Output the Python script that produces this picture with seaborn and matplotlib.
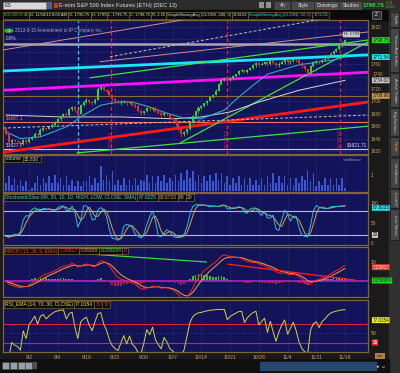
import matplotlib
matplotlib.use("Agg")
import numpy as np
import pandas as pd
import matplotlib.pyplot as plt
import matplotlib.transforms as mtransforms
from matplotlib.patches import Rectangle, Circle
import seaborn as sns

# ---------------- data ----------------
week_labels = ["9/2", "9/9", "9/16", "9/23", "9/30", "10/7", "10/14",
               "10/21", "10/28", "11/4", "11/11", "11/18"]
week_bars = [8, 18, 28, 38, 48, 58, 68, 78, 88, 98, 108, 118]

first_open = 1655.0
close = [1648, 1634, 1638, 1636, 1635, 1632, 1637, 1634, 1640, 1643,
         1648, 1646, 1654, 1657, 1656, 1659, 1662, 1667, 1671, 1676,
         1680, 1678, 1687, 1691, 1686, 1680, 1694, 1699, 1702, 1699,
         1697, 1703, 1720, 1724, 1719, 1716, 1710, 1704, 1700, 1697,
         1699, 1701, 1697, 1699, 1695, 1693, 1685, 1681, 1684, 1689,
         1687, 1690, 1685, 1682, 1678, 1681, 1679, 1674, 1671, 1664,
         1656, 1648, 1650, 1655, 1665, 1676, 1684, 1690, 1692, 1697,
         1701, 1707, 1711, 1717, 1728, 1735, 1737, 1734, 1738, 1741,
         1744, 1749, 1750, 1748, 1751, 1754, 1758, 1762, 1759, 1761,
         1763, 1760, 1765, 1762, 1758, 1761, 1764, 1767, 1763, 1765,
         1768, 1766, 1762, 1757, 1752, 1746, 1757, 1763, 1765, 1763,
         1767, 1769, 1773, 1777, 1781, 1784, 1789, 1795, 1798.75]
wick_up = [3, 2, 2, 1, 2, 1, 2, 1, 3, 2, 2, 1, 3, 2, 1, 2, 3, 2, 2, 1,
           2, 3, 2, 1, 3, 2, 2, 1, 3, 2, 1, 2, 4, 3, 2, 1, 2, 2, 1, 2,
           3, 1, 2, 2, 1, 2, 3, 2, 1, 2, 2, 1, 3, 2, 2, 1, 2, 1, 2, 1,
           2, 3, 2, 2, 3, 2, 1, 2, 2, 1, 2, 2, 1, 3, 2, 1, 2, 2, 1, 2,
           1, 2, 2, 1, 2, 1, 2, 2, 1, 2, 1, 2, 1, 2, 1, 2, 2, 1, 2, 1,
           2, 1, 2, 1, 2, 1, 2, 2, 1, 2, 1, 2, 1, 2, 1, 2, 1, 2, 1]
wick_dn = [2, 3, 2, 2, 1, 4, 2, 3, 1, 2, 2, 3, 1, 2, 2, 1, 2, 1, 2, 2,
           1, 3, 1, 2, 3, 4, 1, 2, 2, 3, 2, 1, 1, 2, 2, 3, 2, 3, 2, 1,
           2, 2, 3, 1, 2, 3, 2, 3, 2, 1, 2, 3, 2, 2, 3, 2, 2, 3, 2, 3,
           4, 6, 3, 2, 1, 2, 1, 2, 2, 1, 2, 1, 2, 1, 1, 2, 2, 3, 1, 2,
           1, 2, 1, 2, 2, 1, 1, 2, 2, 1, 2, 3, 2, 1, 2, 2, 1, 3, 2, 2,
           1, 2, 2, 3, 3, 4, 2, 1, 2, 2, 1, 2, 1, 1, 2, 1, 1, 1, 1]
volume_m = [0.5, 0.9, 0.4, 0.8, 0.4, 0.7, 0.3, 0.6,
            0.1, 0.2, 0.5, 0.9, 0.4, 0.8, 0.5, 0.9, 0.5, 1.0,
            0.5, 0.8, 0.4, 0.9, 0.4, 0.7, 0.3, 0.6, 0.3, 0.6,
            0.6, 0.9, 0.4, 0.8, 0.5, 1.5, 0.7, 1.0, 0.6, 1.2,
            0.4, 0.7, 0.4, 0.8, 0.4, 0.7, 0.4, 0.8, 0.4, 0.7,
            0.6, 1.0, 0.5, 0.9, 0.5, 0.9, 0.6, 1.0, 0.5, 0.8,
            0.6, 1.0, 0.6, 1.1, 0.7, 1.3, 0.8, 1.2, 0.6, 1.0,
            0.5, 0.9, 0.6, 1.0, 0.6, 1.1, 0.7, 1.1, 0.5, 0.9,
            0.4, 0.8, 0.5, 0.9, 0.4, 0.8, 0.4, 0.8, 0.4, 0.7,
            0.4, 0.8, 0.4, 0.9, 0.5, 1.1, 0.5, 0.9, 0.5, 0.9,
            0.4, 0.8, 0.4, 0.8, 0.5, 0.9, 0.7, 1.3, 0.6, 1.1,
            0.3, 0.6, 0.4, 0.8, 0.4, 0.8, 0.4, 0.8, 0.4, 0.8,
            0.2]

sma50_bars = [0, 5, 12, 21, 27, 33, 39, 44, 50, 56, 62, 68, 76, 81, 86, 91, 102, 114, 118]
sma50_vals = [1651, 1640, 1643, 1659, 1678, 1694, 1699, 1699, 1691, 1681,
              1673, 1672, 1686, 1707, 1726, 1744, 1759, 1767, 1771.54]
sma200_bars = [0, 19, 40, 58, 68, 78, 88, 102, 118]
sma200_vals = [1678, 1675, 1675, 1672, 1675, 1683, 1699, 1718, 1734.02]

price_ticks = [1620, 1640, 1660, 1680, 1700, 1720, 1740, 1760, 1780, 1800, 1820]
price_tick_labels = ["1620", "1640", "1660", "1680", "1700", "1720", "", "1760", "", "", "1820"]

# user drawn trend lines: (bar0, price0, bar1, price1)
drawn_lines = [(-1.0, 1749, 126.0, 1775),   # cyan
               (-1.0, 1718, 126.0, 1747),   # magenta
               (-1.0, 1618, 126.0, 1699),   # red
               (60.6, 1633, 126.0, 1796),   # green steep
               (29.2, 1738, 126.0, 1799),   # green upper
               (24.7, 1617, 126.0, 1660),   # green lower
               (-1.0, 1783, 67.5, 1836),    # mauve
               (32.7, 1764, 126.0, 1812),   # mauve
               (36.2, 1772, 112.8, 1835),   # dashed grey
               (-1.0, 1657, 126.0, 1678)]   # dashed grey
drawn_styles = [("#18e8ff", 2.0, "-"), ("#ff10ff", 2.0, "-"), ("#ff1a1a", 2.0, "-"),
                ("#40e040", 0.9, "-"), ("#40e040", 0.9, "-"), ("#40e040", 0.9, "-"),
                ("#c89098", 0.7, "-"), ("#c89098", 0.7, "-"),
                ("#c0c0c0", 0.7, (0, (3, 2))), ("#c0c0c0", 0.7, (0, (3, 2)))]
level_prices = [1793, 1667, 1624, 1708.96]
level_styles = [("#a8a8a8", 1.8), ("#ff7050", 0.8), ("#d0d0d0", 0.8), ("#8a6a3a", 0.8)]
event_bars = [25.0, 36.5, 76.9, 116.2]
event_colors = ["#20d0e8", "#e0204a", "#e0204a", "#e0204a"]
event_texts = ["", "9/20/13", "10/17/13", "11/15/13"]

# MACD panel drawn lines
macd_lines = [(29.2, 14.2, 69.8, 10.0), (77.2, 8.9, 121.5, 0.5)]
macd_line_colors = ["#30e030", "#ff2020"]

# ---------------- derived table ----------------
n = len(close)
df = pd.DataFrame({"bar": np.arange(n), "close": np.array(close, float)})
df["open"] = [first_open] + close[:-1]
df["high"] = np.maximum(df["open"], df["close"]) + np.array(wick_up)
df["low"] = np.minimum(df["open"], df["close"]) - np.array(wick_dn)
df["volume"] = volume_m

hh = df["high"].rolling(4, min_periods=1).max()
ll = df["low"].rolling(4, min_periods=1).min()
fastk = 100 * (df["close"] - ll) / (hh - ll)
df["fullk"] = fastk.rolling(2, min_periods=1).mean()
df["fulld"] = df["fullk"].rolling(3, min_periods=1).mean()
ema_f = df["close"].ewm(span=6.5, adjust=False).mean()
ema_s = df["close"].ewm(span=13, adjust=False).mean()
df["macd"] = ema_f - ema_s
df["signal"] = df["macd"].ewm(span=4.5, adjust=False).mean()
df["diff"] = df["macd"] - df["signal"]
delta = df["close"].diff().fillna(0)
up = delta.clip(lower=0).ewm(span=5, adjust=False).mean()
dn = (-delta.clip(upper=0)).ewm(span=5, adjust=False).mean()
df["rsi"] = 100 - 100 / (1 + up / dn.replace(0, 1e-9))

# ---------------- style ----------------
sns.set_style("dark")
plt.rcParams["font.family"] = ["Liberation Sans Narrow", "Liberation Sans", "DejaVu Sans"]

NAVY = "#13135a"
OUTER = "#1a1a1a"
BORDER = "#7d6538"
TAN = "#c8a060"
GRID = "#40408a"
FS = 3.7

W, H = 400.0, 373.0
fig = plt.figure(figsize=(4.0, 3.73), dpi=100)
fig.patch.set_facecolor(OUTER)


def prect(x0, y0, x1, y1):
    return [x0 / W, 1 - y1 / H, (x1 - x0) / W, (y1 - y0) / H]


ui = fig.add_axes([0, 0, 1, 1], zorder=-5)
ui.set_xlim(0, W); ui.set_ylim(H, 0); ui.axis("off")
ui.add_patch(Rectangle((0, 0), W, 10, color="#2c2c2c"))
ui.add_patch(Rectangle((0, 10), 389, 9.5, color="#0a0a0a"))
ui.add_patch(Rectangle((389, 10), 11, H - 10, color="#303030"))
ui.add_patch(Rectangle((0, 359), 389, 14, color="#101010"))
ui.add_patch(Rectangle((260, 362), 116, 8, color="#284870"))

XL = (-1.05, 126.0)


def panel(y0, y1):
    ax = fig.add_axes(prect(3, y0, 368, y1))
    ax.set_facecolor(NAVY)
    for s in ax.spines.values():
        s.set_color(BORDER); s.set_linewidth(0.9)
    ax.set_xlim(*XL)
    ax.yaxis.tick_right()
    ax.tick_params(axis="both", length=0, labelsize=FS, colors=TAN, pad=2)
    ax.set_xticks(week_bars); ax.set_xticklabels([])
    ax.grid(False)
    for b in week_bars:
        ax.axvline(b, color=GRID, ls=":", lw=0.5, zorder=0)
    return ax


def rbox(ax, val, txt, fc, tc="#101010"):
    tr = mtransforms.blended_transform_factory(ax.transAxes, ax.transData)
    ax.text(1.012, val, txt, transform=tr, fontsize=3.3, color=tc, va="center", ha="left",
            bbox=dict(boxstyle="round,pad=0.1", fc=fc, ec="none"), clip_on=False, zorder=40)


# ---------------- main price panel ----------------
ax = panel(20, 154)
ax.set_ylim(1615.2, 1831.3)
ax.set_yticks(price_ticks)
ax.set_yticklabels(price_tick_labels)
ax.tick_params(axis="y", labelsize=3.4)
for t in price_ticks:
    ax.axhline(t, color=GRID, ls=":", lw=0.5, zorder=0)
for p, (c, lw) in zip(level_prices, level_styles):
    ax.axhline(p, color=c, lw=lw, zorder=2)
for b, c, t in zip(event_bars, event_colors, event_texts):
    ax.axvline(b, color=c, lw=0.9, ls=(0, (3, 2)), zorder=2)
    if t:
        ax.text(b, 1640, t, rotation=90, fontsize=3.4, color=c, ha="center", va="center", zorder=3)
for (b0, p0, b1, p1), (c, lw, ls) in zip(drawn_lines, drawn_styles):
    sns.lineplot(x=[b0, b1], y=[p0, p1], ax=ax, color=c, lw=lw, linestyle=ls, zorder=3)
sns.lineplot(x=sma200_bars, y=sma200_vals, ax=ax, color="#d8d8d8", lw=0.7, zorder=4)
sns.lineplot(x=sma50_bars, y=sma50_vals, ax=ax, color="#30a8c8", lw=0.8, zorder=4)
cols = np.where(df["close"] >= df["open"], "#38d038", "#e83028")
ax.vlines(df["bar"], df["low"], df["high"], colors=cols, lw=0.6, zorder=6)
body = np.maximum(np.abs(df["close"] - df["open"]), 0.8)
ax.bar(df["bar"], body, bottom=np.minimum(df["open"], df["close"]), width=0.7,
       color=cols, lw=0, zorder=7)
ax.set_xlabel(""); ax.set_ylabel("")
ax.set_xlim(*XL); ax.set_ylim(1615.2, 1831.3)
btr = mtransforms.blended_transform_factory(ax.transAxes, ax.transData)
# 1740 label sits just above the SMA200 flag, as in the platform
ax.text(1.012, 1743.5, "1740", transform=btr, fontsize=3.4, color=TAN, va="center",
        ha="left", clip_on=False, zorder=35)
rbox(ax, 1798.75, "1798.75", "#28e028")
rbox(ax, 1771.54, "1771.54", "#20e8f0")
rbox(ax, 1734.02, "1734.02", "#c8c8c8")
rbox(ax, 1708.96, "1708.96", "#c89a50")
ax.text(0.008, 1797, "0.0%", fontsize=3.4, color="#d0d0d0", va="bottom", ha="left", zorder=9, transform=btr)
ax.text(0.008, 1669, "$1667.1", fontsize=3.4, color="#ff8060", va="bottom", ha="left", zorder=9, transform=btr)
ax.text(0.008, 1626, "$1627.7", fontsize=3.4, color="#d0d0d0", va="bottom", ha="left", zorder=9, transform=btr)
ax.text(118.5, 1626, "$1621.71", fontsize=3.4, color="#e8e8e8", va="bottom", ha="left", zorder=9)
ax.text(117.5, 1808, "H: 1799", fontsize=3.2, color="#202020", va="center", ha="left", zorder=9,
        bbox=dict(boxstyle="round,pad=0.2", fc="#c8c8c8", ec="none"))
ax.add_patch(Circle((0.016, 0.92), 0.011, transform=ax.transAxes, color="#30b030", zorder=9))
ax.text(0.016, 0.92, "1", transform=ax.transAxes, fontsize=3.0, color="white",
        ha="center", va="center", zorder=10)
ax.text(0.033, 0.92, "2013-8-15 Amendment to IP Company Inc.", transform=ax.transAxes,
        fontsize=3.3, color="#a8a8b8", ha="left", va="center", zorder=10)

# ---------------- volume ----------------
av = panel(155, 192)
av.bar(df["bar"], df["volume"], width=0.55, color="#3858d8", lw=0, zorder=3)
av.set_ylim(-0.03, 2.18)
av.set_yticks([1]); av.set_yticklabels(["1"])
av.text(0.985, 0.86, "<millions>", transform=av.transAxes, fontsize=3.2, color="#a0a0a0",
        ha="right", va="center")

# ---------------- stochastic ----------------
asx = panel(193, 245)
asx.set_ylim(-5, 125)
asx.axhline(80, color="#b8b8c8", lw=0.8, zorder=1)
asx.axhline(20, color="#b8b8c8", lw=0.8, zorder=1)
sns.lineplot(data=df, x="bar", y="fulld", ax=asx, color="#e0a040", lw=0.7, zorder=3)
sns.lineplot(data=df, x="bar", y="fullk", ax=asx, color="#28c0dc", lw=0.7, zorder=4)
asx.set_xlabel(""); asx.set_ylabel("")
asx.set_xlim(*XL); asx.set_ylim(-5, 125)
asx.set_yticks([0, 50, 100]); asx.set_yticklabels(["0", "50", "100"])
asx.tick_params(axis="y", labelsize=3.4)
rbox(asx, 87.8225, "87.8225", "#20e0f0")
rbox(asx, 20, "20", "#c8c8c8")

# ---------------- MACD ----------------
am = panel(247, 297)
am.set_ylim(-8.4, 17.9)
hcols = np.where(df["diff"] >= 0, "#30c030", "#c01840")
am.bar(df["bar"], df["diff"], width=0.6, color=hcols, lw=0, zorder=2)
am.axhline(0, color="#b020c8", lw=1.2, zorder=3)
sns.lineplot(data=df, x="bar", y="signal", ax=am, color="#f0a040", lw=0.7, zorder=4)
sns.lineplot(data=df, x="bar", y="macd", ax=am, color="#ff2020", lw=0.7, zorder=5)
for (b0, v0, b1, v1), c in zip(macd_lines, macd_line_colors):
    sns.lineplot(x=[b0, b1], y=[v0, v1], ax=am, color=c, lw=0.9, zorder=6)
am.set_xlabel(""); am.set_ylabel("")
am.set_xlim(*XL); am.set_ylim(-8.4, 17.9)
am.set_yticks([10]); am.set_yticklabels(["10"])
rbox(am, 7.25917, "7.25917", "#ff3030", "white")
rbox(am, 0.258084, "0.258084", "#20e020")

# ---------------- RSI ----------------
ar = panel(300, 352)
ar.set_ylim(10, 119.5)
ar.axhline(70, color="#e0203a", lw=0.8, zorder=1)
ar.axhline(30, color="#e0203a", lw=0.8, zorder=1)
ar.axhline(50, color=GRID, lw=0.5, ls=":", zorder=1)
sns.lineplot(data=df, x="bar", y="rsi", ax=ar, color="#d8d040", lw=0.7, zorder=3)
ar.set_xlabel(""); ar.set_ylabel("")
ar.set_xlim(*XL); ar.set_ylim(10, 119.5)
ar.set_yticks([50]); ar.set_yticklabels(["50"])
ar.set_xticks(week_bars); ar.set_xticklabels(week_labels)
ar.tick_params(axis="x", pad=2.5, labelsize=FS, colors=TAN)
rbox(ar, 77.0154, "77.0154", "#f0f020")
rbox(ar, 30, "30", "#ff3030", "white")

# ---------------- overlay chrome ----------------
ov = fig.add_axes([0, 0, 1, 1], zorder=30)
ov.set_xlim(0, W); ov.set_ylim(H, 0); ov.axis("off"); ov.patch.set_alpha(0)
fig.canvas.draw()
rend = fig.canvas.get_renderer()


def seq_boxes(items, x, y, h, fs, fc="#0a0a0a", ec=BORDER, pad=1.2):
    for txt, col in items:
        t = ov.text(x + pad, y, txt, fontsize=fs, color=col, va="center", ha="left", zorder=5)
        w = t.get_window_extent(renderer=rend).width
        ov.add_patch(Rectangle((x, y - h / 2), w + 2 * pad, h, fc=fc, ec=ec, lw=0.5, zorder=4))
        x += w + 2 * pad
    return x


ov.add_patch(Rectangle((3, 1.5), 43, 7, fc="#d8d8d8", ec="#808080", lw=0.4))
ov.text(5, 5.2, "ES", fontsize=FS, color="#202020", va="center")
ov.add_patch(Rectangle((47, 1.5), 5, 7, fc="#506090", ec="none"))
ov.add_patch(Rectangle((54, 2.5), 3.5, 5, fc="#e03020", ec="none"))
ov.text(59, 5.2, "E-mini S&P 500 Index Futures (ETH) (DEC 13)", fontsize=4.1,
        color="#e0e0e0", va="center")
for txt, x0, x1 in [("4h", 275, 289), ("Style", 292, 313), ("Drawings", 315, 338), ("Studies", 340, 361)]:
    ov.add_patch(Rectangle((x0, 1.5), x1 - x0, 7, fc="#484848", ec="#606060", lw=0.4))
    ov.text((x0 + x1) / 2 + 1, 5.2, txt, fontsize=3.6, color="#e0e0e0", va="center", ha="center")
ov.add_patch(Rectangle((259, 2), 5, 6, fc="#909090", ec="none"))
ov.add_patch(Rectangle((266, 2), 5, 6, fc="#909090", ec="none"))
ov.text(362.5, 5.2, "1798.75", fontsize=4.3, color="#30e030", va="center", fontweight="bold")
ov.text(385.5, 2.8, "+2.25", fontsize=2.1, color="#30e030", va="center")
ov.text(385.5, 6.8, "+0.13%", fontsize=2.1, color="#30e030", va="center")

quote = [("/ES 100 D 4h", "#30e030"), ("D: 11/18/13 8:00 AM", "#e0e0e0"),
         ("O: 1796.75", "#e0e0e0"), ("H: 1799", "#e0e0e0"),
         ("L: 1796.75", "#e0e0e0"), ("C: 1798.75", "#e0e0e0"),
         ("R: 2.25", "#e0e0e0"), ("SimpleMovingAvg (CLOSE, 200, 0)", "#e0e0e0"),
         ("1734.02", "#e0e0e0"), ("SimpleMovingAvg (CLOSE, 50, 0)", "#30e0f0"),
         ("1771.54", "#30e0f0")]
seq_boxes(quote, 3, 15.0, 7, 3.0, pad=1.0)
ov.add_patch(Rectangle((372, 11), 9, 8, fc="#303030", ec="#a0a0a0", lw=0.4))
ov.text(376.5, 15, "Z", fontsize=3.6, color="#e0e0e0", ha="center", va="center")

seq_boxes([("Volume", "#c8c8c8"), ("32,830", "#c8c8c8")], 3.5, 159, 6.5, 3.6)
seq_boxes([("StochasticSlow (80, 20, 10, 10, HIGH, LOW, CLOSE, SMA)", "#40d0e8"),
           ("87.8225", "#40d0e8"), ("83.6723", "#e0a040"), ("80", "#c8c8c8"),
           ("20", "#c8c8c8")], 3.5, 197.5, 6.5, 3.6)
seq_boxes([("MACD (13, 26, 9, EMA)", "#ff3030"), ("7.25917", "#ff3030"),
           ("7.08308", "#e0a040"), ("0.258084", "#30e030"), ("0", "#d020d0")],
          3.5, 251, 6.5, 3.6)
seq_boxes([("RSI_EMA (14, 70, 30, CLOSE)", "#e8e040"), ("77.0154", "#e8e040"),
           ("30", "#ff3030"), ("70", "#ff3030")], 3.5, 304.5, 6.5, 3.6)

tabs = [("Trade", 12, 27), ("Times And Sales", 28, 72), ("Active Trader", 73, 107),
        ("Big Buttons", 108, 136), ("Chart", 137, 156), ("Dashboard", 158, 188),
        ("Level II", 189, 208), ("Live News", 209, 240)]
for txt, y0, y1 in tabs:
    ov.add_patch(Rectangle((390, y0), 9, y1 - y0, fc="#454545", ec="#1a1a1a", lw=0.5))
    ov.text(394.5, (y0 + y1) / 2, txt, rotation=270, fontsize=3.1,
            color="#f0a030" if txt == "Chart" else "#c8c8c8", ha="center", va="center")

for x0 in [2, 10, 18, 25]:
    ov.add_patch(Rectangle((x0, 362), 6.5, 7, fc="#9aa0aa", ec="#404040", lw=0.4))
ov.add_patch(Rectangle((33, 362), 4, 7, fc="#505050", ec="none"))
ov.add_patch(Rectangle((375, 353), 10, 6, fc="#b08040", ec="none"))
ov.text(380, 356, "ooo", fontsize=2.6, color="#202020", ha="center", va="center")
ov.text(381, 366, "\u25b8 \u21d4", fontsize=3.6, color="#e0e0e0", ha="center", va="center")

fig.savefig("out.png", dpi=100, facecolor=fig.get_facecolor())
